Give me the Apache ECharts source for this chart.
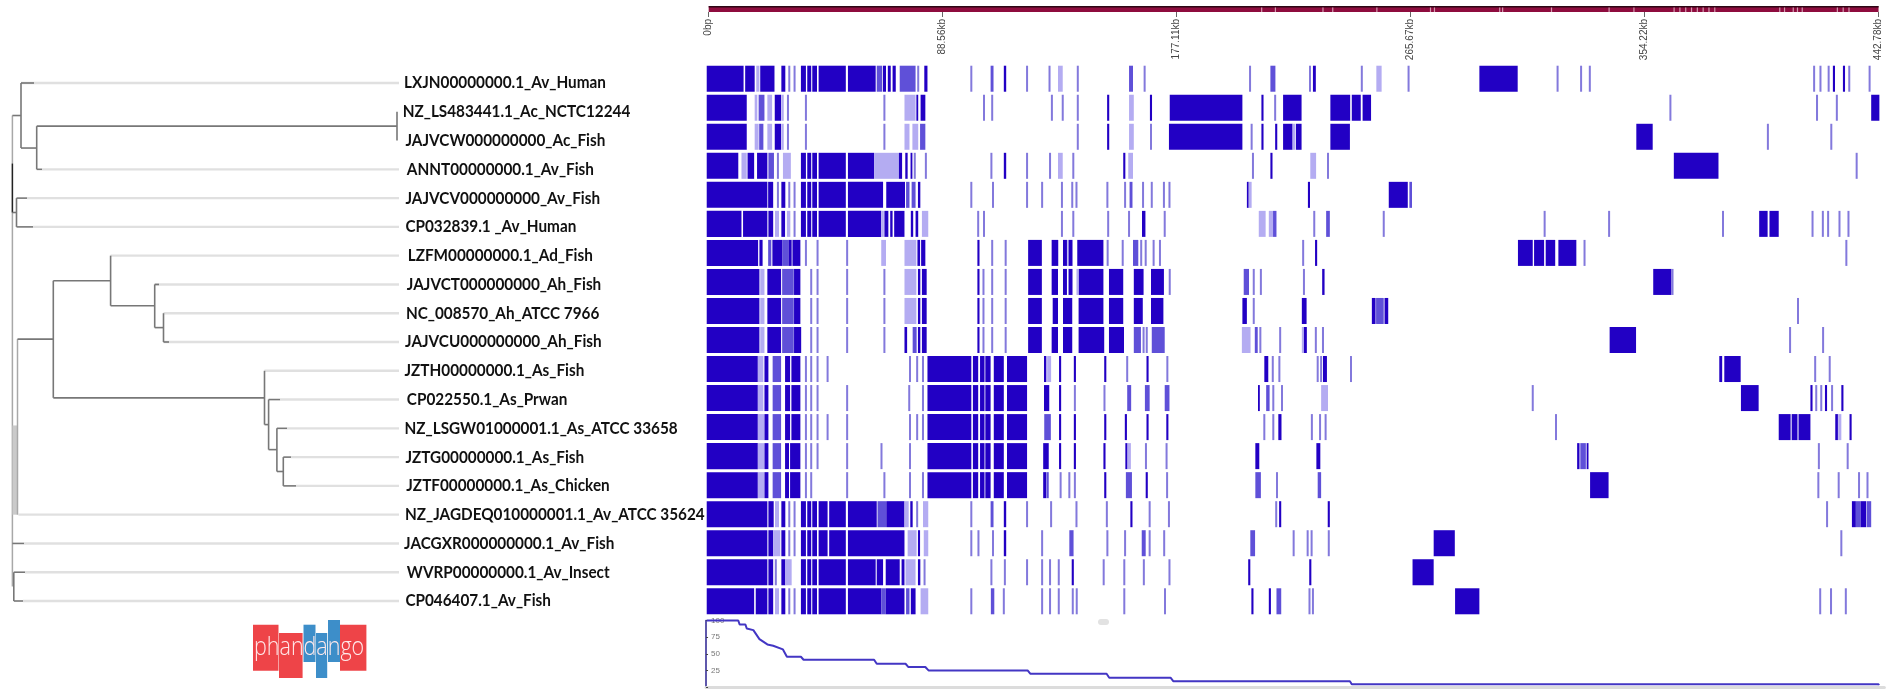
<!DOCTYPE html>
<html><head><meta charset="utf-8">
<style>html,body{margin:0;padding:0;background:#fff}#c{width:1902px;height:698px;filter:blur(0.45px)}</style>
<script src="https://cdn.jsdelivr.net/npm/echarts@6/dist/echarts.min.js"></script>
</head><body><div id="c"></div>
<script>
// Tone codes in tuples: [start,end] solid, [start,end,1] medium, [start,end,2] pale, [kb] thin line
const strainNames = ["LXJN00000000.1_Av_Human","NZ_LS483441.1_Ac_NCTC12244","JAJVCW000000000_Ac_Fish","ANNT00000000.1_Av_Fish","JAJVCV000000000_Av_Fish","CP032839.1 _Av_Human","LZFM00000000.1_Ad_Fish","JAJVCT000000000_Ah_Fish","NC_008570_Ah_ATCC 7966","JAJVCU000000000_Ah_Fish","JZTH00000000.1_As_Fish","CP022550.1_As_Prwan","NZ_LSGW01000001.1_As_ATCC 33658","JZTG00000000.1_As_Fish","JZTF00000000.1_As_Chicken","NZ_JAGDEQ010000001.1_Av_ATCC 35624","JACGXR000000000.1_Av_Fish","WVRP00000000.1_Av_Insect","CP046407.1_Av_Fish"];
const labelStarts = [404,402.7,405.4,406.8,405.4,405.4,407.7,406.8,405.9,405,404.5,406.8,404.5,405.4,406.3,405,404,406.8,405.4];

const rowLXJN = [[-0.75,13.2],[13.8,17.4],[18,19.2,2],[19.5,24.9],[27.5,29],[30.5],[32.5],[34.9,36.8],[37.3,38.8],[39.2,41],[41.6,51.9],[52.7,63.2],[63.6,65.6,1],[65.9,67.1],[67.8,68.9],[69.6,70.8],[72.3,78.3,1],[79.3],[81.6,82.8],[99.4],[106.7,107.8,1],[111.7,112.6],[120.5],[129],[132.2,134,2],[139.7],[159.1,160.6,1],[165],[204.9],[212.6,214.5,1],[227.6],[228.7,229.8],[247.2],[252.7,254.7,2],[264.9],[291.7,306.2],[321.3],[330.2],[333.5],[418.4],[420.8],[423.9],[425.5,426.3],[429.3,430.1],[431.7],[439.4]];
const rowLS483441 = [[-0.75,14.4],[17.4,18.4,2],[18.9,21.1,1],[22.2,24,2],[25,27.4],[27.5,28.4,2],[30],[36.8],[66.5],[74.1,78.3,2],[78.6,79.3],[80.2,82],[104.2],[107.3],[129.9],[134],[139.7],[150.8,151.6],[159.1,160.9,2],[167,167.8],[174.5,202],[209.2,210],[214.4],[217.4,224.4],[235.3,242.8],[243.4,246.8],[247.5,250.7],[364],[419.5],[427],[440,443.1]];
const rowJAJVCW = [[-0.75,14.4],[17.4,18.9,2],[19.1,20.7,1],[22.2,24,2],[25,27.4],[27.5,28.4,2],[30],[36.8],[66.5],[74.1,76,2],[77.1,79.3,2],[80,82,1],[139.7],[150.8,151.6],[159.1,160.9,2],[167.4],[174.2,202],[205.5],[209.2,210],[214.4,215.2],[217.4,221],[221,222.1,2],[222.3,224.4],[235.3,242.7],[351.1,357.3],[400.9],[424.9]];
const rowANNT = [[-0.75,11.2],[12.4,14.4,2],[14.7,17.2],[18.3,22.2],[22.6,24.7,1],[26.2],[28.1,31.1,2],[34.9,36.8],[37.3,38.8],[39.2,41],[41.6,51.9],[52.7,62.6],[62.6,72,2],[72,73.2],[74.4,75.3],[76.4,77.1],[78],[82.2],[107],[111.7,112.6],[120.5],[129.2],[132.2,134,2],[138],[156.9,157.7],[158.8,160.6,2],[206],[212.6,213.4],[227.7,229.9,2],[234.4],[365.3,382.2],[434.5]];
const rowJAJVCV = [[-0.75,22.2],[22.5,24.4],[26.2],[27.5,29],[30.5],[32.5],[34.9,36.8],[37.3,38.8],[39.2,41],[41.6,51.9],[52.7,66],[67.2,74.3],[74.7,76,1],[76.8,78.3,1],[79.2,80.1],[99.4],[107.6],[120.5],[126.2],[133.7],[137.6],[139.2],[150.9],[157.6],[159.3,160.4,1],[164.4],[167.7],[172.3],[174.4],[203.7,204.4],[204.4,205.5,2],[226.8,227.6],[257.4,264.6],[265.2,266.2,1]];
const rowCP032839 = [[-0.75,12.4],[13,22.2],[22.6,24.4],[25.1,26.6,2],[27.5,28.9],[29.6,30.9,2],[32.5],[34.9,36.8],[37.3,38.8],[39.2,41],[41.6,51.9],[52.7,65.3],[65.3,66.3,2],[66.5,68],[68.7,69.6],[70.2,74.1],[76.5,77.4],[78.3,79.3],[80.7,83.1,2],[102],[104.2],[133.7],[138],[151.2],[159.1],[164,165.3],[172.6],[208.2,210.8,2],[212,213.6,2],[213.6,214.9,1],[229.2],[233.7,235.1,1],[255.5],[316.4],[340.8],[383.9],[397.6,400.8],[401.5,405],[417.8],[421.7],[423.7],[428],[431.4]];
const rowLZFM = [[-0.75,18.7],[19.2,20.4],[22.5,23.7,1],[24.1,27.8],[27.8,30.2,1],[30.2,31.4],[31.7,34.7],[36.8],[41.2],[52.4],[65.3,67.1,2],[74.1,78.6,2],[79,80],[80.4,82],[101.7,102.5],[107.3],[112.4],[120.9,126.1],[129.8,132.3],[134.1,135.6],[135.7,136.1,2],[136.2,137.7],[139.5,149.4],[151],[156.7],[160.6,162.6,1],[163.7],[165.4],[168.4],[170.8],[225],[229.5,230.3],[306.3,311.9],[312.4,316.2],[316.8,320.4],[321.6,328.4],[331.5],[430.6]];
const rowJAJVCT = [[-0.75,19.2],[19.5,21.1,2],[22.2,27.4],[27.8,32.2,1],[32.3,34.7],[38.8],[41.2],[52.4],[66.5],[74.1,78.6,2],[79.2,80.1],[80.7,82.5],[101.7,102.5],[104],[107.3],[112.4],[120.9,126.1],[129.8,132.2],[134.1,135.6],[136.2,137.7],[139.2,140.1,2],[140.1,149.4],[151.5,156.9],[160.9,164.6],[167.4,172.3],[174.5],[202.5,204.5,1],[206.3],[209],[225.3],[232.2,233.1],[357.5,364.4],[364.8]];
const rowNC008570 = [[-0.75,19.2],[19.5,21.1,2],[22.2,27.4],[27.8,32.2,1],[32.3,34.7],[38.8],[41.2],[52.4],[66.5],[74.1,78.6,2],[79.2,80.1],[80.7,82.5],[101.7,102.5],[104],[107.3],[112.4],[120.9,126.1],[130.2,132.2],[134.1,137.6],[140,149.4],[151.5,156.9],[160.9,164.3],[167.4,172.1],[202,203.7],[206.3],[224.5,226.3],[251,252.4],[252.6,255.5,1],[255.8,257.2],[412.3]];
const rowJAJVCU = [[-0.75,19.2],[19.5,21.1,2],[22.2,27.4],[27.8,32.2,1],[32.3,35],[38.8],[41.2],[52.4],[66.5],[74.1,75.1],[77.2,78.7,1],[79.2,80.1],[80.7,82.5],[101.7,102.5],[104],[107.3],[112.4],[120.9,126.1],[129.8,132.2],[134.1,137.6],[140,149.7],[151.5,157.2],[160.9,163.6,1],[164.6],[165.8],[167.7,172.6,1],[201.8,205.1,2],[206.7,207.8,1],[208.8],[216.3],[224.5,225.3,2],[225.3,226.4],[229.8],[232.5],[341,351],[409.3],[421.8]];
const rowJZTH = [[-0.75,18.6],[18.6,20.7,2],[21.1,22.6],[24.2,27.4,1],[28.9,30.8],[31.3,34.7],[36.8],[38.8],[41.2],[45],[76.2],[78.9],[81.1],[82.8,99.4],[100,102],[102.7,104.4],[104.7,106.7],[107.9,111.7],[112.9,120.5],[126.9,127.8],[128.1,129.6,2],[132.6,133.4],[138.2,139],[149.7,150.5],[158.4],[165.7,166.5],[173.6],[210.3,211.8],[213.5],[216],[230.5],[231.8],[232.5,234],[243.1],[382.5,383.6],[384.4,390.6],[418.8],[424.3]];
const rowCP022550 = [[-0.75,18.6],[18.6,20.7,2],[21.1,22.6],[24.2,27.4,1],[28.9,30.8],[31.3,34.7],[36.8],[38.8],[41.2],[52.4],[75.9],[81.1],[82.8,99.4],[100,102],[102.7,104.4],[104.7,106.7],[107.9,111.7],[112.9,120.5],[126.9,128.9],[132.6,133.4],[138.6],[149.8],[158.4,159.9,1],[165.1,166.9,1],[172.6,174.4,1],[207.9,208.6],[211,212.3,1],[213.7],[217],[231.8,234.4,2],[311.9],[390.7,397.4],[417,417.8],[419.2],[421.1],[422.5,423.3],[425.2],[428.7,429.5]];
const rowLSGW = [[-0.75,18.6],[18.6,21,2],[21.1,22.6],[24.2,27.4,1],[28.9,30.8],[31.3,34.7],[36.8],[38.8],[41.2],[45],[52.4],[76.2],[78.9],[81.1],[82.8,99.4],[100,102],[102.7,104.4],[104.7,106.7],[107.9,111.7],[112.9,120.5],[127,129.5,1],[132.6,133.4],[138.2,139],[149.7,150.5],[157.5,158.3],[165.7,166.5],[173.2,174],[210.3],[213.7],[215.6,216.8],[228.3],[231.4],[233.5],[320.7],[405,409.5],[409.9,412.1],[412.5,417],[426.4,427.4],[427.5,428.7,2],[431.8,432.6]];
const rowJZTG = [[-0.75,18.6],[18.6,21,2],[21.1,22.6],[24.2,27.4,1],[28.9,30.4],[30.8,34.7],[36.8],[38.8],[41.2],[52.4],[65.4],[76.2],[82.8,99.4],[100,102],[102.7,104.4],[104.7,106.7],[107.9,111.7],[112.9,120.5],[126.6,128.7],[132.6,133.4],[138.2,139],[149.4,150.2],[157.7,158.5],[158.6,159.8,2],[165.5],[173.3],[206.9,208.4],[230,231.5],[328.7,329.6],[329.9,332,1],[332.3,333],[420.2],[431.1]];
const rowJZTF = [[-0.75,18.6],[18.6,21,2],[21.1,22.6],[24.2,27.4,1],[28.9,30.4],[30.8,34.7],[36.8],[38.8],[52.4],[66.5],[76.2],[81.1],[82.8,99.4],[100,102],[102.7,104.4],[104.7,106.7],[107.9,111.7],[112.9,120.5],[126.6,127.7],[127.8,128.7,1],[133.2],[136.5],[138.6],[149.7,150.5],[157.9,160.2,1],[165.4,166.2],[173.5],[206.9,209,1],[215.1],[230.5,231.8,1],[333.6,340.6],[420],[427.7],[435.4],[438.6]];
const rowJAGDEQ = [[-0.75,22.2],[22.6,24.6],[25.1,26.6,2],[27.5,29],[30.5],[32.5],[34.9,36.8],[37.3,38.8],[39.2,41],[41.6,45],[45.6,51.9],[52.7,63.6],[63.9,67.1,1],[67.2,74.1],[74.1,75.7,2],[76.3,77.2],[78.9],[81.1,83.1,2],[99.4],[106.7,107.8,1],[111.7,112.6],[120.5],[129.6],[139.2],[150.7],[159.6,160.4],[166.9],[174.2],[214.8],[215.9,216.7],[234.3,235.1],[423.3],[432.7,434.2],[434.2,436,1],[436,438.1],[438.3,440,1]];
const rowJACGXR = [[-0.75,22.2],[22.6,24.4],[24.4,27.1,2],[27.5,29],[30.5],[32.5],[34.9,36.8],[37.3,38.8],[39.2,41],[41.6,45],[45.6,51.9],[52.7,74.1],[75.3,78.7,2],[79.2,80],[81.4,83.1,2],[99.4],[102.1],[107.6],[111.7,112.6],[126.2],[136.5,138.1,1],[150.9],[157.6],[163.9,165.4,1],[166.9],[172.4],[205,206.8,1],[221.4],[226.7],[228.2],[234.7],[274.4,282.4],[428.7]];
const rowWVRP = [[-0.75,22.2],[22.6,24.4],[25.4],[27.5,29],[29,31.4,2],[34.9,36.8],[37.3,38.8],[39.2,41],[41.6,51.9],[52.7,63.2],[63.6,66],[67,72.3],[73,74.1],[74.5,78.3,2],[79.2,80.1],[81.7],[107],[112.1],[120.5],[126.2],[129.2],[132.5],[137.4,138.2],[149.5],[157.3],[164.7],[174.4],[204.2,205],[227.3,228.1],[266.4,274.4]];
const rowCP046407 = [[-0.75,17.2],[17.8,22.2],[22.6,24.4],[25.1,26.6,2],[27.5,29],[30.5],[32.5],[34.9,36.8],[37.3,38.8],[39.2,41],[41.6,51.9],[52.7,65.3],[65.3,67,1],[67,74.1],[74.7,76,1],[76.5,78.3],[80.2,83.1,2],[99.4],[106.8,108.1,1],[111.7],[126.2],[129.2],[132.5],[137.8],[139.3],[157.3],[172.7],[205.4,206.2],[212,212.8],[214.9,216.7,1],[227.4],[228.7],[282.5,291.7],[420.7],[424.8],[430.4]];
const rowList = [rowLXJN,rowLS483441,rowJAJVCW,rowANNT,rowJAJVCV,rowCP032839,rowLZFM,rowJAJVCT,rowNC008570,rowJAJVCU,rowJZTH,rowCP022550,rowLSGW,rowJZTG,rowJZTF,rowJAGDEQ,rowJACGXR,rowWVRP,rowCP046407];

const coverageKb  = [-0.75,11.2,11.7,13.9,14.4,16.9,19.2,22.2,24.4,28.1,29.6,34.9,35.9,62.6,63.6,74.5,75.6,82,83.2,120.7,121.7,150.6,151.6,174.8,175.9,242.7,243.4,442.8,442.9];
const coverageVal = [100,100,94,94,88,85.5,72,64,62,56.5,45.5,45.5,41,41,35,35,30,30,25,25,20,20,14,14,8.5,8.5,4,4,2.5];

const tickKb = [0,88.56,177.11,265.67,354.22,442.78];
const tickText = ["0bp","88.56kb","177.11kb","265.67kb","354.22kb","442.78kb"];
const coverageTicks = [25,50,75,100];
const genomeMarks = [209.3,214.5,232.5,236.2,252.9,273.2,274.7,299.4,300.5,319,340.8,350.2,365.4,367.6,369.8,372,374.2,376.4,378.6,380.8,405.4,407.2,410.5,412.1,413.9,427.2,429.4,431.6];

// branches: [x0,tip0,x1,tip1,style]  style 0 internal grey, 1 tip pale, 2 near-black, 3 wide pale grey, 4 mid grey
const treeTips = [[21,0,399,0,1],[42,3,399,3,1],[27,4,399,4,1],[33,5,399,5,1],[110.6,6,399,6,1],[154.7,7,399,7,1],[163.5,8,399,8,1],[163.5,9,399,9,1],[264.5,10,399,10,1],[280,11,399,11,1],[287,12,399,12,1],[291,13,399,13,1],[296,14,399,14,1],[18.4,15,399,15,1],[24,16,399,16,1],[25,17,399,17,1],[23,18,399,18,1]];
const treeBranches = [[12.4,1.13,12.4,17.5,4],[12.4,2.8,12.4,4.5,2],[15,11.9,15,15,3],
[12.4,1.13,21,1.13,0],[21,0,21,2.26,0],[21,0,34,0,0],[21,2.26,36.7,2.26,0],[36.7,1.5,36.7,3,0],[36.7,1.5,397,1.5,0],[397,1,397,2,0],[36.7,3,42,3,0],
[12.4,4.5,16.5,4.5,0],[16.5,4,16.5,5,0],[16.5,4,27,4,0],[16.5,5,33,5,0],
[17.5,8.9,17.5,15,4],[17.5,8.9,53.3,8.9,0],[53.3,6.87,53.3,10.94,0],[53.3,6.87,110.6,6.87,0],[110.6,6,110.6,7.74,0],[110.6,7.74,154.7,7.74,0],[154.7,7,154.7,8.5,0],[154.7,8.5,163.5,8.5,0],[163.5,8,163.5,9,0],[154.7,7,159,7,0],[163.5,9,169,9,0],
[53.3,10.94,264.5,10.94,0],[264.5,10,264.5,11.87,0],[264.5,11.87,268.6,11.87,0],[268.6,11,268.6,12.74,0],[268.6,11,280,11,0],[268.6,12.74,276.9,12.74,0],[276.9,12,276.9,13.5,0],[276.9,12,287,12,0],[276.9,13.5,283.3,13.5,0],[283.3,13,283.3,14,0],[283.3,13,291,13,0],[283.3,14,296,14,0],
[12.4,16,24,16,0],[13.8,17,13.8,18,0],[13.8,17,25,17,0],[13.8,18,23,18,0]];

const toneFill = ['#2200c4','#5f50d8','#b4acf2','#8379dc'];
const heatData = [];
rowList.forEach((row, r) => row.forEach(s => {
  if (s.length === 1) heatData.push([r, s[0]-0.38, s[0]+0.38, 3]);
  else heatData.push([r, s[0], s[1], s[2] || 0]);
}));
const branchStyle = [
  {stroke:'#777',lineWidth:1.6},{stroke:'#e0e0e0',lineWidth:2.4},{stroke:'#222',lineWidth:1.4},
  {stroke:'#cacaca',lineWidth:5},{stroke:'#a8a8a8',lineWidth:1.5}];
const branchData = treeTips.concat(treeBranches);
const labelData = strainNames.map((n,i)=>[labelStarts[i],i,n]);

const xScale = {type:'value',min:-1,max:445,show:false};
const chart = echarts.init(document.getElementById('c'),null,{renderer:'canvas'});
chart.setOption({
  animation:false,
  backgroundColor:'#fff',
  grid:[
    {left:706.06,right:17.6,top:64.2,height:551.6},
    {left:706.06,right:17.6,top:620.5,height:66.5},
    {left:706.06,right:17.6,top:6,height:6},
    {left:0,top:83,width:400,height:518}
  ],
  xAxis:[
    Object.assign({gridIndex:0},xScale),
    {gridIndex:1,type:'value',min:-1,max:445,axisLine:{show:true,onZero:false,lineStyle:{color:'#dcdcdc',width:3}},axisTick:{show:false},axisLabel:{show:false},splitLine:{show:false}},
    {gridIndex:2,type:'value',min:-1,max:445,position:'bottom',
      axisLine:{show:false},splitLine:{show:false},
      axisTick:{show:true,length:5,customValues:tickKb,lineStyle:{color:'#666',width:1}},
      axisLabel:{show:true,rotate:90,margin:7,customValues:tickKb,hideOverlap:false,color:'#444',fontSize:10,fontFamily:'Liberation Sans',
        formatter:v=>{const i=tickKb.indexOf(v);return i<0?'':tickText[i];}}},
    {gridIndex:3,type:'value',min:0,max:400,show:false}
  ],
  yAxis:[
    {gridIndex:0,type:'category',data:strainNames,inverse:true,show:false},
    {gridIndex:1,type:'value',min:0,max:100,interval:25,splitLine:{show:false},
      axisLine:{show:true,onZero:false,lineStyle:{color:'#2a2090',width:1.5}},
      axisTick:{show:true,length:2,inside:true,lineStyle:{color:'#444'}},
      axisLabel:{show:true,inside:true,margin:5,color:'#777',fontSize:8,fontFamily:'Liberation Sans',customValues:coverageTicks}},
    {gridIndex:2,type:'value',min:0,max:1,show:false},
    {gridIndex:3,type:'value',min:0,max:18,inverse:true,show:false}
  ],
  series:[
    {type:'custom',xAxisIndex:3,yAxisIndex:3,data:branchData,encode:{x:[0,2],y:[1,3]},silent:true,clip:false,
      renderItem:(p,api)=>{
        const a=api.coord([api.value(0),api.value(1)]),b=api.coord([api.value(2),api.value(3)]);
        return {type:'line',shape:{x1:a[0],y1:a[1],x2:b[0],y2:b[1]},style:Object.assign({},branchStyle[api.value(4)])};
      }},
    {type:'custom',xAxisIndex:3,yAxisIndex:3,data:labelData,encode:{x:0,y:1},silent:true,clip:false,
      dimensions:['x','y',{name:'n',type:'ordinal'}],
      renderItem:(p,api)=>{
        const a=api.coord([api.value(0),api.value(1)]);
        return {type:'text',x:a[0],y:a[1],scaleX:0.9,style:{text:labelData[p.dataIndex][2],fill:'#111',font:'bold 17px Lato',verticalAlign:'middle',align:'left'}};
      }},
    {type:'custom',xAxisIndex:0,yAxisIndex:0,data:heatData,encode:{x:[1,2],y:0},silent:true,clip:false,
      renderItem:(p,api)=>{
        const a=api.coord([api.value(1),api.value(0)]),b=api.coord([api.value(2),api.value(0)]);
        const h=api.size([0,1])[1]*0.896;
        return {type:'rect',shape:{x:a[0],y:a[1]-h/2,width:b[0]-a[0],height:h},style:{fill:toneFill[api.value(3)]}};
      }},
    {type:'line',xAxisIndex:1,yAxisIndex:1,data:coverageKb.map((k,i)=>[k,coverageVal[i]]),showSymbol:false,silent:true,clip:false,
      lineStyle:{color:'#4336c4',width:2}},
    {type:'custom',xAxisIndex:2,yAxisIndex:2,data:[[0,442.78]],encode:{x:[0,1]},silent:true,clip:false,
      renderItem:(p,api)=>{
        const a=api.coord([api.value(0),1]),b=api.coord([api.value(1),0]);
        return {type:'group',children:[
          {type:'rect',shape:{x:a[0],y:a[1],width:b[0]-a[0],height:b[1]-a[1]},style:{fill:'#8e0c3e'}},
          {type:'rect',shape:{x:a[0],y:a[1],width:b[0]-a[0],height:1.5},style:{fill:'#2d0615'}}
        ]};
      }},
    {type:'custom',xAxisIndex:2,yAxisIndex:2,data:genomeMarks,encode:{x:0},silent:true,clip:false,
      renderItem:(p,api)=>{
        const a=api.coord([api.value(0),1]),b=api.coord([api.value(0),0]);
        return {type:'rect',shape:{x:a[0]-0.6,y:a[1]+1.5,width:1.2,height:b[1]-a[1]-1.5},style:{fill:'#d49ab0'}};
      }}
  ],
  graphic:[
    {type:'rect',shape:{x:253,y:624.7,width:25.5,height:46},style:{fill:'#ee4448'},silent:true},
    {type:'rect',shape:{x:279,y:633,width:23.6,height:45},style:{fill:'#ee4448'},silent:true},
    {type:'rect',shape:{x:303.5,y:624.7,width:12,height:37.3},style:{fill:'#3d8ec9'},silent:true},
    {type:'rect',shape:{x:316,y:633,width:11.2,height:45},style:{fill:'#3d8ec9'},silent:true},
    {type:'rect',shape:{x:328,y:620,width:12,height:42},style:{fill:'#3d8ec9'},silent:true},
    {type:'rect',shape:{x:340,y:624.7,width:26.4,height:46},style:{fill:'#ee4448'},silent:true},
    {type:'text',x:254,y:648,scaleX:0.86,style:{text:'phandango',fill:'#ffe9ea',font:'300 25px "Open Sans"',verticalAlign:'middle'},silent:true},
    {type:'circle',shape:{cx:714,cy:341,r:7},style:{fill:'rgba(175,175,195,0.75)'},silent:true},
    {type:'rect',shape:{x:1098,y:619,width:11,height:6,r:3},style:{fill:'#e2e2e2'},silent:true}
  ]
});
</script></body></html>
